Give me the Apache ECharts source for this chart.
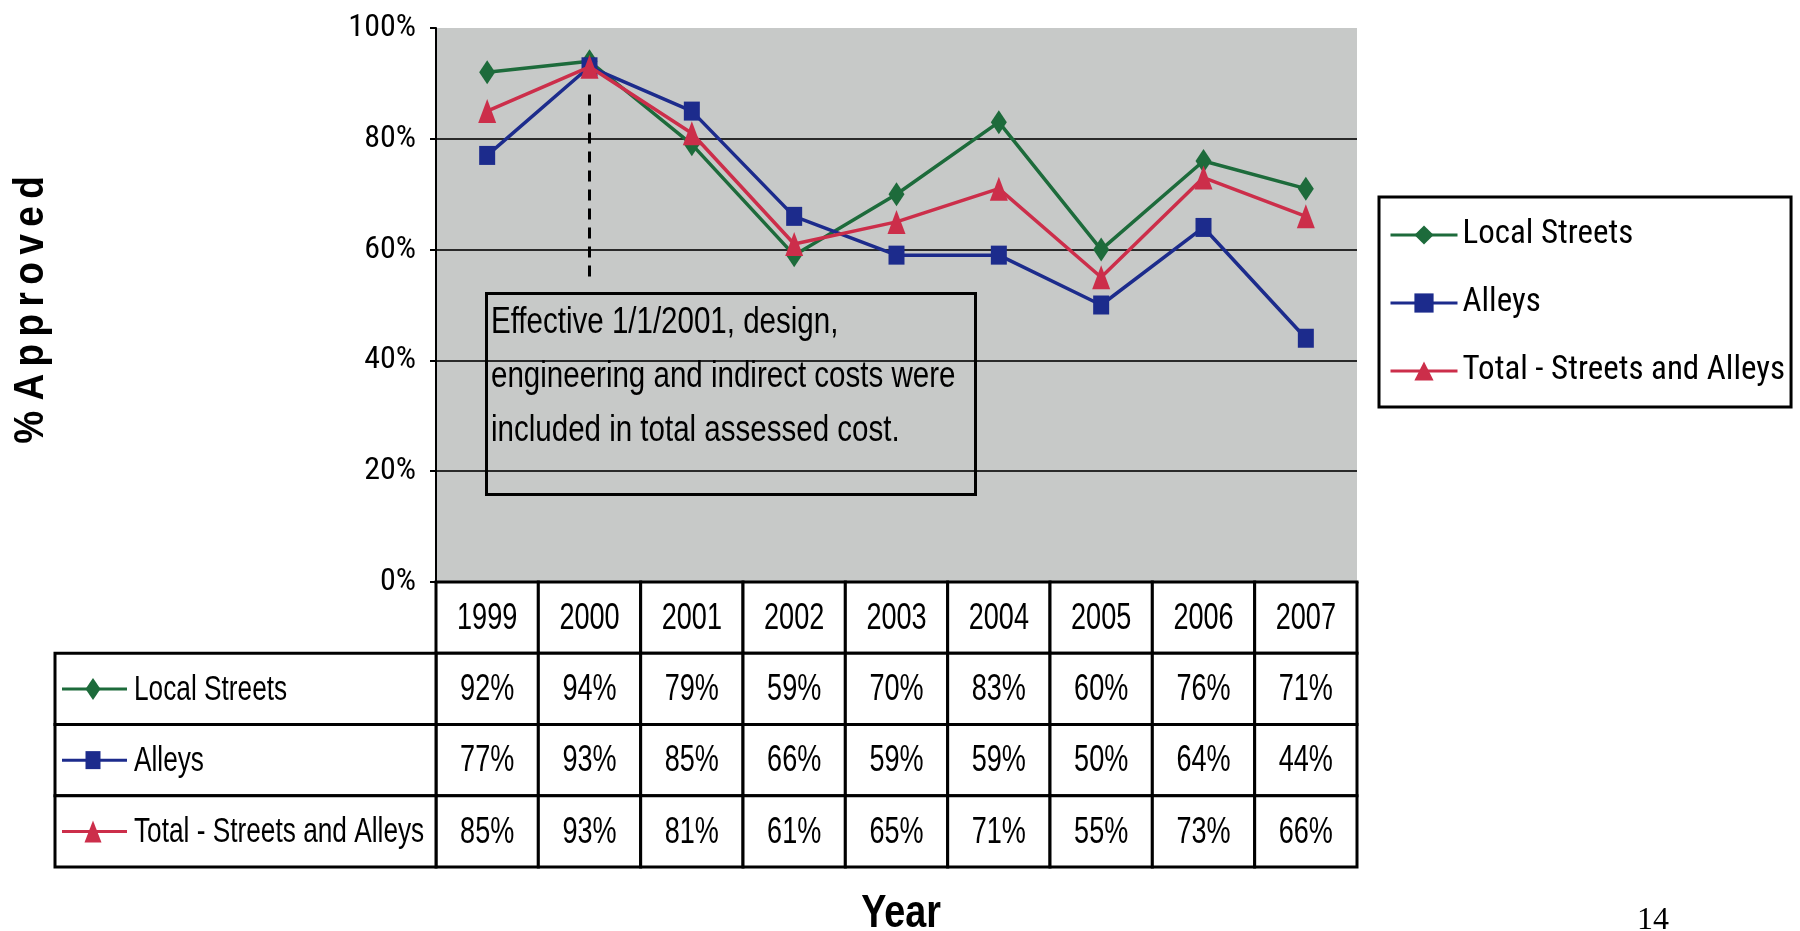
<!DOCTYPE html>
<html>
<head>
<meta charset="utf-8">
<script src="https://cdn.jsdelivr.net/npm/echarts@6/dist/echarts.min.js"></script>
<style>
html,body{margin:0;padding:0;background:#fff;}
#main{width:1800px;height:931px;}
</style>
</head>
<body>
<div id="main"></div>
<script>
const years = ['1999','2000','2001','2002','2003','2004','2005','2006','2007'];
const seriesNames = ['Local Streets','Alleys','Total - Streets and Alleys'];
const localStreets = [92,94,79,59,70,83,60,76,71];
const alleys = [77,93,85,66,59,59,50,64,44];
const totalStreetsAlleys = [85,93,81,61,65,71,55,73,66];
const yTicks = [0,20,40,60,80,100];
const annotationText = ['Effective 1/1/2001, design,','engineering and indirect costs were','included in total assessed cost.'];
const yTitle = '% Approved';

const SANS = "'Liberation Sans',Arial,sans-serif";
const COND = "'Roboto Condensed','Liberation Sans',sans-serif";
const NX = 0.82;   // Arial Narrow emulation
const TY = 1.12;   // table text is slightly taller in the source
const colors = ['#1d6b3b','#1c2b8c','#cc2e4a'];
const symbols = ['diamond','rect','triangle'];
const symbolSizes = [[16,24],[16,19],[18,24]];
const values = [localStreets, alleys, totalStreetsAlleys];

const rowKeys = ['header'].concat(seriesNames);
const cellData = [];
const cellText = [];
for (let r = 0; r < rowKeys.length; r++) {
  for (let c = 0; c < years.length; c++) {
    cellData.push([c, r]);
    cellText.push(r === 0 ? years[c] : values[r-1][c] + '%');
  }
}
const labelData = seriesNames.map((n,i)=>[0,i]);
// letter-spaced title (thin spaces between letters)
const spacedTitle = yTitle.split(' ').map(wd => wd.split('').join('\u2009')).join(' ');

function cellRender(params, api) {
  const p = api.coord([api.value(0), api.value(1)]);
  const s = api.size([1,1]);
  return {type:'group', children:[
    {type:'rect', shape:{x:p[0]-s[0]/2, y:p[1]-s[1]/2, width:s[0], height:s[1]},
     style:{fill:'#fff', stroke:'#000', lineWidth:3}},
    {type:'text', x:p[0], y:p[1]+1, scaleX:NX, scaleY:TY, style:{text:cellText[params.dataIndex], x:0, y:0, align:'center', verticalAlign:'middle',
     fontFamily:SANS, fontSize:33, fill:'#000'}}
  ]};
}

function labelRender(params, api) {
  const i = params.dataIndex;
  const p = api.coord([api.value(0), api.value(1)]);
  const s = api.size([1,1]);
  const x0 = p[0]-s[0]/2, cy = p[1];
  const mx = x0 + 38;
  let marker;
  if (i === 0) marker = {type:'polygon', shape:{points:[[mx,cy-11],[mx+7.5,cy],[mx,cy+11],[mx-7.5,cy]]}, style:{fill:colors[i]}};
  else if (i === 1) marker = {type:'rect', shape:{x:mx-7.5,y:cy-9,width:15,height:18}, style:{fill:colors[i]}};
  else marker = {type:'polygon', shape:{points:[[mx,cy-11],[mx+8.5,cy+11],[mx-8.5,cy+11]]}, style:{fill:colors[i]}};
  return {type:'group', children:[
    {type:'rect', shape:{x:x0, y:p[1]-s[1]/2, width:s[0], height:s[1]}, style:{fill:'#fff', stroke:'#000', lineWidth:3}},
    {type:'line', shape:{x1:x0+7, y1:cy, x2:x0+72, y2:cy}, style:{stroke:colors[i], lineWidth:3}},
    marker,
    {type:'text', x:x0+79, y:cy+1, scaleX:NX, scaleY:TY, style:{text:seriesNames[i], x:0, y:0, align:'left', verticalAlign:'middle', fontFamily:SANS, fontSize:32, fill:'#000'}}
  ]};
}

const chart = echarts.init(document.getElementById('main'));
const lineSeries = seriesNames.map((name,i)=>({
  name:name, type:'line', xAxisIndex:0, yAxisIndex:0, data:values[i],
  symbol:symbols[i], symbolSize:symbolSizes[i],
  itemStyle:{color:colors[i]}, lineStyle:{color:colors[i], width:3.5},
  z: 3 + i
}));
lineSeries[0].markLine = {
  silent:true, symbol:['none','none'], label:{show:false},
  lineStyle:{color:'#000', type:[11,8], width:3},
  data:[[{coord:[years[1],88]},{coord:[years[1],55]}]]
};

chart.setOption({
  animation:false,
  backgroundColor:'#fff',
  grid:[
    {left:436, top:28, width:921, height:554, show:true, backgroundColor:'#c7c9c8', borderWidth:0},
    {left:436, top:582, width:921, height:285},
    {left:55, top:653.25, width:381, height:213.75}
  ],
  xAxis:[
    {type:'category', gridIndex:0, data:years, boundaryGap:true,
     axisLine:{show:true, lineStyle:{color:'#000', width:3}}, axisTick:{show:false}, axisLabel:{show:false}},
    {type:'category', gridIndex:1, data:years, show:false},
    {type:'category', gridIndex:2, data:['label'], show:false}
  ],
  yAxis:[
    {type:'value', gridIndex:0, min:yTicks[0], max:yTicks[yTicks.length-1], interval:yTicks[1]-yTicks[0],
     axisLine:{show:true, lineStyle:{color:'#000', width:2}},
     axisTick:{show:true, length:6, lineStyle:{color:'#000', width:2}},
     axisLabel:{formatter:'{value}%', fontFamily:COND, fontSize:32, color:'#000', margin:20},
     splitLine:{show:true, showMaxLine:false, lineStyle:{color:'#2a2a2a', width:2}}},
    {type:'category', gridIndex:1, data:rowKeys, inverse:true, show:false},
    {type:'category', gridIndex:2, data:seriesNames, inverse:true, show:false}
  ],
  legend:{
    orient:'vertical', left:1379, top:197,
    data:seriesNames,
    backgroundColor:'#fff', borderColor:'#000', borderWidth:3,
    padding:[18,6,16,10], itemGap:28, itemWidth:67, itemHeight:24,
    lineStyle:{width:3},
    textStyle:{fontFamily:COND, fontSize:33, color:'#000', lineHeight:40},
    selectedMode:false
  },
  series: lineSeries.concat([
    {type:'custom', xAxisIndex:1, yAxisIndex:1, data:cellData, renderItem:cellRender, silent:true},
    {type:'custom', xAxisIndex:2, yAxisIndex:2, data:labelData, renderItem:labelRender, silent:true}
  ]),
  graphic:[
    {type:'rect', left:484, top:291, shape:{width:489, height:201}, style:{fill:'none', stroke:'#000', lineWidth:3}, z:10},
    {type:'text', x:491, y:296, scaleX:NX, style:{text:annotationText.join('\n'), x:0, y:0, fontFamily:SANS, fontSize:36, lineHeight:54, fill:'#000'}, z:10},
    {type:'text', x:31, y:310, rotation:Math.PI/2, scaleX:0.88, style:{text:spacedTitle, x:0, y:0, fontFamily:SANS, fontWeight:'bold', fontSize:42, fill:'#000', align:'center', verticalAlign:'middle'}},
    {type:'text', x:901, y:914, scaleX:NX, style:{text:'Year', x:0, y:0, fontFamily:SANS, fontWeight:'bold', fontSize:46, fill:'#000', align:'center', verticalAlign:'middle'}},
    {type:'text', x:1637, y:905, style:{text:'14', fontFamily:"'Liberation Serif',serif", fontSize:32, fill:'#000', align:'left', verticalAlign:'top'}}
  ]
});
</script>
</body>
</html>
